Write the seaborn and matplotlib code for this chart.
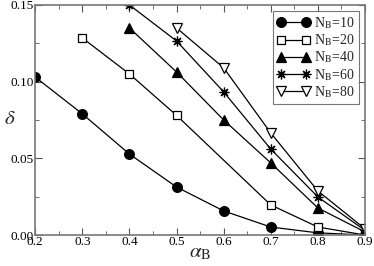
import numpy as np
import pandas as pd
import seaborn as sns
import matplotlib
matplotlib.use("Agg")
import matplotlib.pyplot as plt
from matplotlib.ticker import MultipleLocator

# values
alpha_10 = [0.2, 0.3, 0.4, 0.5, 0.6, 0.7, 0.8, 0.9]
delta_10 = [0.103, 0.079, 0.0528, 0.0313, 0.0157, 0.0052, 0.0014, 0.0]
alpha_20 = [0.3, 0.4, 0.5, 0.7, 0.8, 0.9]
delta_20 = [0.1285, 0.105, 0.078, 0.0196, 0.0052, 0.0]
alpha_40 = [0.4, 0.5, 0.6, 0.7, 0.8, 0.9]
delta_40 = [0.135, 0.1063, 0.075, 0.047, 0.0176, 0.002]
alpha_60 = [0.4, 0.5, 0.6, 0.7, 0.8, 0.9]
delta_60 = [0.15, 0.1265, 0.0933, 0.056, 0.0248, 0.003]
alpha_80 = [0.5, 0.6, 0.7, 0.8, 0.9]
delta_80 = [0.135, 0.109, 0.0665, 0.0287, 0.004]
labels = ["N$_\\mathrm{B}$=10", "N$_\\mathrm{B}$=20", "N$_\\mathrm{B}$=40",
          "N$_\\mathrm{B}$=60", "N$_\\mathrm{B}$=80"]

sns.set_style("ticks")
plt.rcParams["font.family"] = ["Liberation Serif", "DejaVu Serif"]
plt.rcParams["mathtext.fontset"] = "stix"

fig = plt.figure(figsize=(3.74, 2.66), dpi=100)
ax = fig.add_axes([0.094, 0.1165, 0.882, 0.865])

series = [(alpha_10, delta_10), (alpha_20, delta_20), (alpha_40, delta_40),
          (alpha_60, delta_60), (alpha_80, delta_80)]
styles = [dict(marker="o", markersize=7, markerfacecolor="black"),
          dict(marker="s", markersize=6, markerfacecolor="white"),
          dict(marker="^", markersize=7, markerfacecolor="black"),
          dict(marker=(8, 2, 0), markersize=7, markerfacecolor="black"),
          dict(marker="v", markersize=7, markerfacecolor="white")]

for (x, y), lab, st in zip(series, labels, styles):
    df = pd.DataFrame({"alpha": x, "delta": y})
    sns.lineplot(data=df, x="alpha", y="delta", ax=ax, color="black",
                 linewidth=0.9, markeredgecolor="black", markeredgewidth=0.9,
                 label=lab, **st)

ax.set_xlim(0.2, 0.9)
ax.set_ylim(0.0, 0.15)
ax.xaxis.set_major_locator(MultipleLocator(0.1))
ax.xaxis.set_minor_locator(MultipleLocator(0.05))
ax.yaxis.set_major_locator(MultipleLocator(0.05))
ax.yaxis.set_minor_locator(MultipleLocator(0.025))
ax.set_xticklabels([f"{v:.1f}" for v in ax.get_xticks()])
ax.set_yticklabels([f"{v:.2f}" for v in ax.get_yticks()])
ax.tick_params(which="both", direction="in", top=True, right=True,
               labelsize=9.5, colors="#555555", labelcolor="black", pad=1)
ax.tick_params(which="major", length=5)
ax.tick_params(which="minor", length=3)
for s in ax.spines.values():
    s.set_color("#777777")
    s.set_linewidth(1.2)

ax.set_xlabel("$\\alpha_\\mathrm{B}$", fontsize=15)
ax.xaxis.set_label_coords(0.5, -0.035)
ax.set_ylabel("$\\delta$", fontsize=15, rotation=0, ha="center", va="center")
ax.yaxis.set_label_coords(-0.078, 0.5)

leg = ax.legend(loc="upper right", bbox_to_anchor=(0.99, 0.985), numpoints=2,
                handlelength=2.4, fontsize=10, frameon=True, fancybox=False,
                borderpad=0.3, labelspacing=0.1, handletextpad=0.3,
                borderaxespad=0.2)
leg.get_frame().set_edgecolor("#555555")
leg.get_frame().set_linewidth(0.8)

fig.savefig("out.png", dpi=100)
